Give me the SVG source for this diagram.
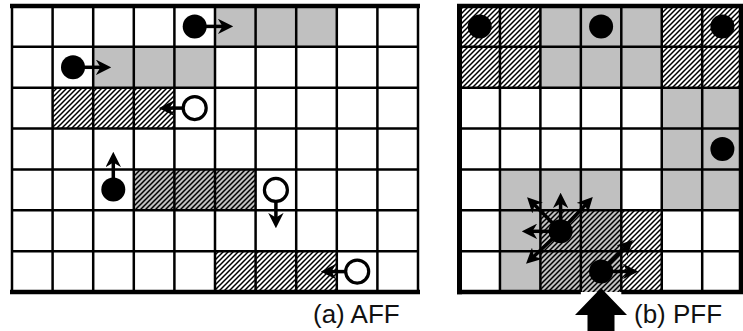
<svg xmlns="http://www.w3.org/2000/svg" width="743" height="331" viewBox="0 0 743 331">
<style>
.g{fill:#c0c0c0}
.h{fill:url(#hatch)}
.ln{stroke:#000;stroke-width:2.5;fill:none}
.bd{stroke:#000;stroke-width:4.5;fill:none}
.ag{fill:#000}
.ao{fill:#fff;stroke:#000;stroke-width:3.2}
.ar{stroke:#000;stroke-width:3.5;fill:none;marker-end:url(#ah)}
.lbl{font-family:"Liberation Sans",Arial,sans-serif;font-size:26px;fill:#111}
</style>
<defs>
<pattern id="hatch" patternUnits="userSpaceOnUse" width="5" height="5">
<path d="M-1,1 L1,-1 M0,5 L5,0 M4,6 L6,4" stroke="#000" stroke-width="1.5"/>
</pattern>
<marker id="ah" viewBox="0 0 10 10" markerWidth="4.4" markerHeight="4.4" refX="4.5" refY="5" orient="auto">
<path d="M0,0 L10,5 L0,10 L3,5 z" fill="#000"/>
</marker>
</defs>
<rect width="743" height="331" fill="#fff"/>

<g id="grid-a">
<rect class="g" x="215" y="6" width="121.8" height="40.86"/>
<rect class="g" x="93.2" y="46.86" width="121.8" height="40.86"/>
<rect class="h" x="52.6" y="87.72" width="121.8" height="40.86"/>
<rect class="g" x="133.8" y="169.44" width="121.8" height="40.86"/>
<rect class="h" x="133.8" y="169.44" width="121.8" height="40.86"/>
<rect class="h" x="215" y="251.16" width="121.8" height="40.86"/>
<path class="ln" d="M12,6V292 M52.6,6V292 M93.2,6V292 M133.8,6V292 M174.4,6V292 M215,6V292 M255.6,6V292 M296.2,6V292 M336.8,6V292 M377.4,6V292 M418,6V292 M12,46.86H418 M12,87.72H418 M12,128.58H418 M12,169.44H418 M12,210.3H418 M12,251.16H418"/>
<path class="bd" d="M10,6H420 M10,292H420"/>
</g>

<g id="grid-b">
<rect class="h" x="459.5" y="6" width="80.9" height="81.72"/>
<rect class="g" x="540.4" y="6" width="121.35" height="81.72"/>
<rect class="h" x="661.75" y="6" width="81" height="81.72"/>
<rect class="g" x="661.75" y="87.72" width="81" height="122.58"/>
<rect class="g" x="499.95" y="169.44" width="121.35" height="40.86"/>
<rect class="g" x="499.95" y="210.3" width="121.35" height="81.7"/>
<rect class="h" x="540.4" y="210.3" width="80.9" height="81.7"/>
<rect class="h" x="621.3" y="210.3" width="40.45" height="81.7"/>
<path class="ln" d="M499.95,6V292 M540.4,6V292 M580.85,6V292 M621.3,6V292 M661.75,6V292 M702.2,6V292 M459.5,46.86H743 M459.5,87.72H743 M459.5,128.58H743 M459.5,169.44H743 M459.5,210.3H743 M459.5,251.16H743"/>
<path class="bd" d="M457,6H743 M457,292H580.85 M621.3,292H743 M741,4V294"/>
<path d="M459.5,4V294.2" stroke="#000" stroke-width="5"/>
</g>

<g id="connectors">
<line class="ar" x1="194.7" y1="26.4" x2="224.8" y2="26.4"/>
<line class="ar" x1="73" y1="67.3" x2="102.8" y2="67.3"/>
<line class="ar" x1="194.7" y1="108.1" x2="167.2" y2="108.1"/>
<line class="ar" x1="113.3" y1="189.5" x2="113.3" y2="160.2"/>
<line class="ar" x1="275.9" y1="189.9" x2="275.9" y2="219.8"/>
<line class="ar" x1="357.2" y1="271.6" x2="329.2" y2="271.6"/>
<line class="ar" x1="560.6" y1="231.3" x2="560.6" y2="201.2"/>
<line class="ar" x1="560.6" y1="231.3" x2="533" y2="203.2"/>
<line class="ar" x1="560.6" y1="231.3" x2="587" y2="203.2"/>
<line class="ar" x1="560.6" y1="231.3" x2="530.2" y2="231.3"/>
<line class="ar" x1="560.6" y1="231.3" x2="532.2" y2="258"/>
<line class="ar" x1="601.1" y1="271.5" x2="629.8" y2="271.5"/>
<line class="ar" x1="601.1" y1="271.5" x2="626.9" y2="246"/>
</g>

<g id="agents-a">
<circle class="ag" cx="194.7" cy="26.4" r="12"/>
<circle class="ag" cx="73" cy="67.3" r="12"/>
<circle class="ao" cx="194.7" cy="108.1" r="11.5"/>
<circle class="ag" cx="113.3" cy="189.5" r="12"/>
<circle class="ao" cx="275.9" cy="189.9" r="11.5"/>
<circle class="ao" cx="357.2" cy="271.6" r="11.5"/>
</g>

<g id="agents-b">
<circle class="ag" cx="479.7" cy="26.4" r="12"/>
<circle class="ag" cx="601.1" cy="26.4" r="12"/>
<circle class="ag" cx="722.4" cy="26.4" r="12"/>
<circle class="ag" cx="722.4" cy="149" r="12"/>
<circle class="ag" cx="560.6" cy="231.3" r="12"/>
<circle class="ag" cx="601.1" cy="271.5" r="12"/>
</g>

<g id="exit-arrow">
<path d="M601,288 L627,315 L614.5,315 L614.5,331 L587.5,331 L587.5,315 L575,315 Z" fill="#000"/>
</g>

<g id="labels">
<text class="lbl" x="313" y="323">(a) AFF</text>
<text class="lbl" x="634" y="323">(b) PFF</text>
</g>
</svg>
